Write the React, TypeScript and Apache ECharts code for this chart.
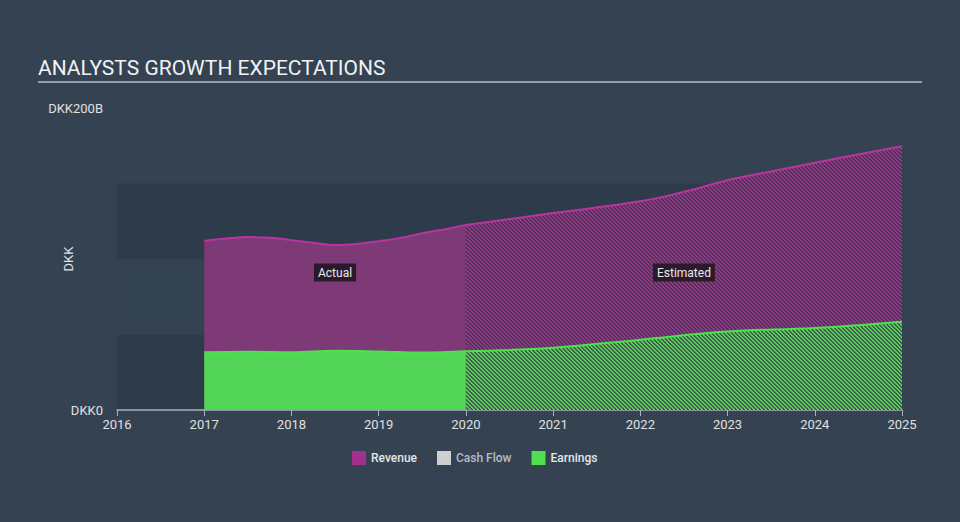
import React, { useEffect, useRef } from "react";
import * as echarts from "echarts";

const yearTicks = [2016, 2017, 2018, 2019, 2020, 2021, 2022, 2023, 2024, 2025];
const revenueActualX = [2017, 2017.25, 2017.5, 2017.75, 2018, 2018.25, 2018.5, 2018.75, 2019, 2019.25, 2019.5, 2019.75, 2020];
const revenueActualY = [112, 113.5, 114.5, 114, 112.5, 110.8, 109.2, 110, 111.8, 114, 117, 119.6, 122.5];
const revenueEstX = [2020, 2021, 2022, 2022.5, 2023, 2023.5, 2024, 2025];
const revenueEstY = [122.5, 130.4, 138.2, 144.5, 152.2, 158, 163.8, 174.7];
const earningsActualX = [2017, 2017.5, 2018, 2018.5, 2019, 2019.5, 2020];
const earningsActualY = [38.2, 38.6, 38.3, 39.3, 38.8, 38.0, 38.9];
const earningsEstX = [2020, 2021, 2022, 2023, 2024, 2025];
const earningsEstY = [38.9, 41.2, 46.6, 52.0, 54.3, 58.5];
const legendNames = ["Revenue", "Cash Flow", "Earnings"];
const regionLabels = ["Actual", "Estimated"];

function pair(xs: number[], ys: number[]) {
  return xs.map((x, i) => [x, ys[i]]);
}

function makePattern(bg: string, fg: string) {
  const c = document.createElement("canvas");
  c.width = 4;
  c.height = 4;
  const ctx = c.getContext("2d")!;
  ctx.fillStyle = bg;
  ctx.fillRect(0, 0, 4, 4);
  ctx.fillStyle = fg;
  for (let y = 0; y < 4; y++) {
    for (let x = 0; x < 4; x++) {
      const d = (((x - y) % 4) + 4) % 4;
      if (d === 0 || d === 1) ctx.fillRect(x, y, 1, 1);
    }
  }
  return c;
}

export default function App() {
  const ref = useRef<HTMLDivElement>(null);
  useEffect(() => {
    document.body.style.margin = "0";
    const chart = echarts.init(ref.current!, null, { renderer: "svg" });
    const purplePat = makePattern("#553159", "#8d3b87");
    const greenPat = makePattern("#3d5e4a", "#5ccc5c");
    const font = "Roboto, 'Noto Sans', sans-serif";
    const option: any = {
      animation: false,
      backgroundColor: "#344252",
      textStyle: { fontFamily: font },
      grid: { left: 117, right: 58, top: 108, bottom: 112 },
      legend: {
        bottom: 52,
        left: 347,
        icon: "rect",
        itemWidth: 14,
        itemHeight: 14,
        itemGap: 20,
        selectedMode: false,
        textStyle: { color: "#e6e6e6", fontSize: 12, fontFamily: font, fontWeight: 500 },
        data: [
          { name: legendNames[0], itemStyle: { color: "#a3308f" } },
          { name: legendNames[1], itemStyle: { color: "#cfcfcf" }, textStyle: { color: "#b8bcc2" } },
          { name: legendNames[2], itemStyle: { color: "#4fe04f" } },
        ],
      },
      xAxis: {
        type: "value",
        min: yearTicks[0],
        max: yearTicks[yearTicks.length - 1],
        interval: 1,
        axisLine: { lineStyle: { color: "#a8b2bf", width: 1.5 } },
        axisTick: { show: true, length: 6, lineStyle: { color: "#a8b2bf" } },
        axisLabel: { color: "#e0e0e0", fontSize: 13, margin: 8, formatter: (v: number) => String(v) },
        splitLine: { show: false },
      },
      yAxis: {
        type: "value",
        min: 0,
        max: 200,
        interval: 50,
        axisLine: { show: false },
        axisTick: { show: false },
        axisLabel: {
          color: "#e0e0e0",
          fontSize: 13,
          margin: 14,
          formatter: (v: number) => (v === 0 ? "DKK0" : v === 200 ? "DKK200B" : ""),
        },
        splitLine: { show: false },
        splitArea: {
          show: true,
          areaStyle: { color: ["#2e3b4b", "#344352", "#2e3b4b", "rgba(0,0,0,0)"] },
        },
      },
      series: [
        {
          name: legendNames[0],
          type: "line",
          data: pair(revenueActualX, revenueActualY),
          smooth: 0.4,
          symbol: "none",
          itemStyle: { color: "#a3308f" },
          lineStyle: { color: "#b8359f", width: 2 },
          areaStyle: { color: "#7d3a76", opacity: 1 },
          z: 2,
        },
        {
          name: legendNames[0],
          type: "line",
          data: pair(revenueEstX, revenueEstY),
          smooth: 0.4,
          symbol: "none",
          itemStyle: { color: "#a3308f" },
          lineStyle: { color: "#b8359f", width: 2 },
          areaStyle: { color: { image: purplePat, repeat: "repeat" }, opacity: 1 },
          z: 2,
        },
        {
          name: legendNames[1],
          type: "line",
          data: [],
          itemStyle: { color: "#cfcfcf" },
        },
        {
          name: legendNames[2],
          type: "line",
          data: pair(earningsActualX, earningsActualY),
          smooth: 0.4,
          symbol: "none",
          itemStyle: { color: "#4fe04f" },
          lineStyle: { color: "#4ce24e", width: 2 },
          areaStyle: { color: "#53d655", opacity: 1 },
          z: 3,
        },
        {
          name: legendNames[2],
          type: "line",
          data: pair(earningsEstX, earningsEstY),
          smooth: 0.4,
          symbol: "none",
          itemStyle: { color: "#4fe04f" },
          lineStyle: { color: "#4ce24e", width: 2 },
          areaStyle: { color: { image: greenPat, repeat: "repeat" }, opacity: 1 },
          z: 3,
        },
      ],
    };
    chart.setOption(option);
    const yMid = chart.convertToPixel({ xAxisIndex: 0, yAxisIndex: 0 } as any, [2017, 91])[1];
    const xA = chart.convertToPixel({ xAxisIndex: 0 } as any, (2017 + 2020) / 2);
    const xE = chart.convertToPixel({ xAxisIndex: 0 } as any, (2020 + 2025) / 2);
    const yCenter = chart.convertToPixel({ yAxisIndex: 0 } as any, 100);
    const lbl = (x: number, text: string) => ({
      type: "text",
      x,
      y: yMid,
      z: 100,
      style: {
        text,
        fill: "#e8e8e8",
        fontSize: 12,
        fontFamily: font,
        align: "center",
        verticalAlign: "middle",
        backgroundColor: "#2b1a2b",
        padding: [3, 4, 3, 4],
      },
    });
    chart.setOption({
      graphic: [
        {
          type: "text",
          left: 38,
          top: 57,
          style: { text: "ANALYSTS GROWTH EXPECTATIONS", fill: "#f2f2f2", fontSize: 21, fontFamily: font },
        },
        {
          type: "line",
          shape: { x1: 38, y1: 82, x2: 922, y2: 82 },
          style: { stroke: "#b8bec6", lineWidth: 1.5 },
        },
        {
          type: "text",
          x: 68,
          y: yCenter,
          rotation: Math.PI / 2,
          style: { text: "DKK", fill: "#e0e0e0", fontSize: 13, fontFamily: font, align: "center", verticalAlign: "middle" },
        },
        lbl(xA, regionLabels[0]),
        lbl(xE, regionLabels[1]),
      ],
    });
    return () => chart.dispose();
  }, []);
  return <div ref={ref} style={{ position: "absolute", left: 0, top: 0, width: 960, height: 522 }} />;
}
